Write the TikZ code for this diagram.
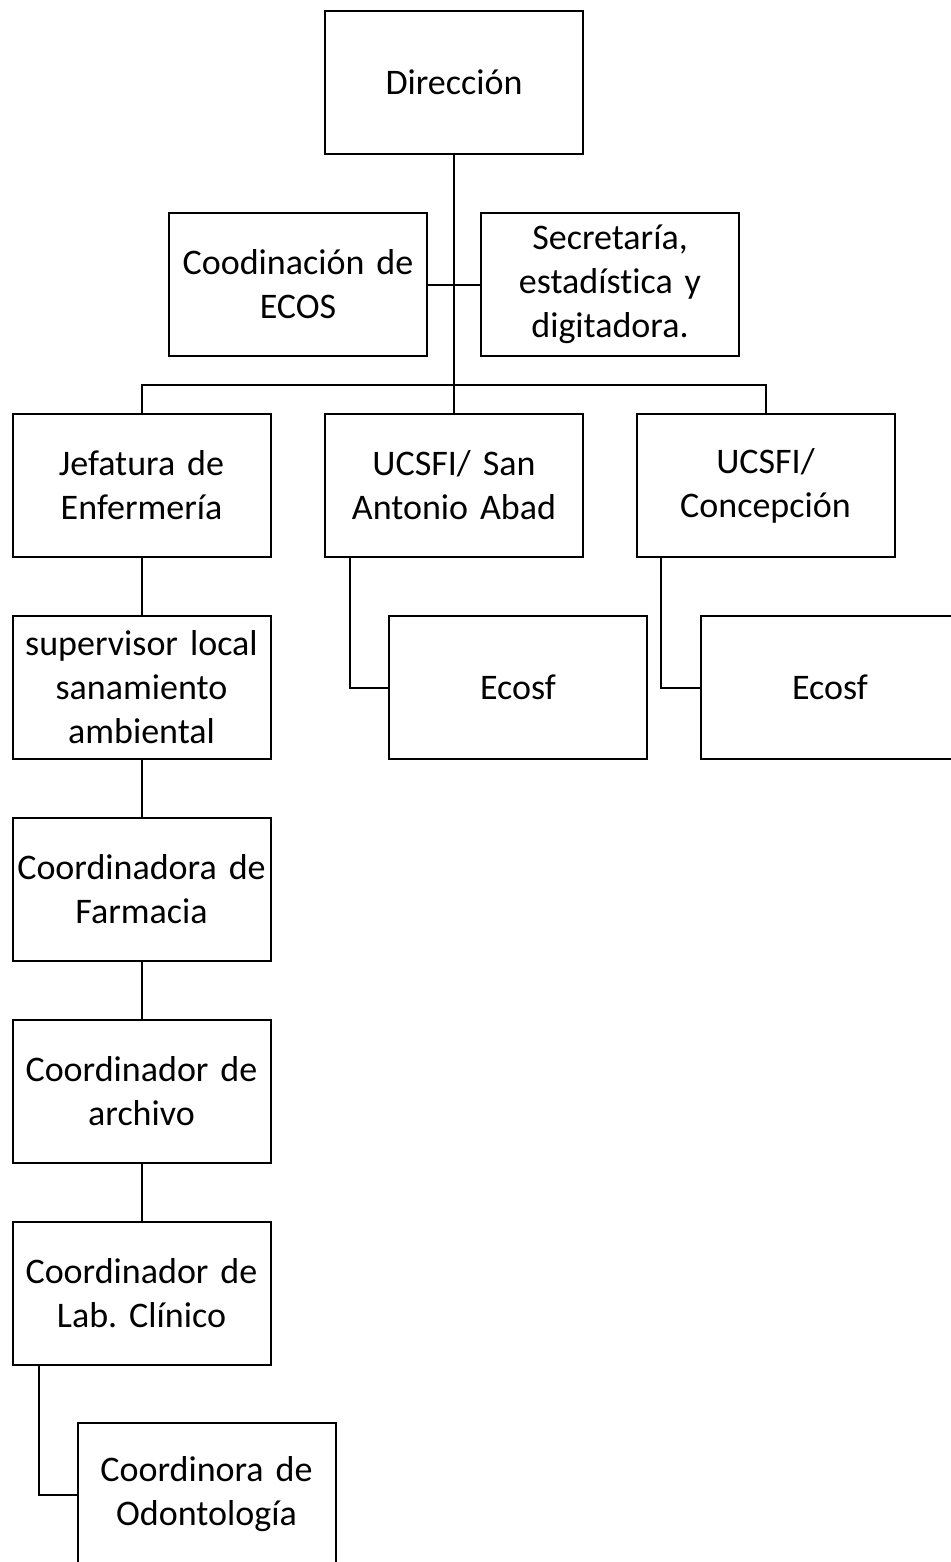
\documentclass[tikz,border=0pt]{standalone}
\usepackage{fontspec}
\setmainfont{Carlito}[Ligatures=NoCommon]
\usepackage{tikz}
\usetikzlibrary{positioning}
\frenchspacing

\begin{document}
\begin{tikzpicture}[x=0.5pt, y=-0.5pt, node distance=101pt,
    box/.style={rectangle, draw, line width=1pt, minimum width=129pt, minimum height=71.5pt, text width=127pt, align=center, inner sep=1pt, font=\fontsize{18}{22}\selectfont},
    link/.style={draw, line width=1pt}]

    \useasboundingbox (0,0) rectangle (951,1562);
    \clip (0,0) rectangle (951,1562);

    \node[box] (dir) at (454,82.5) {Dirección};
    \node[box] (ecos) at (298,284.5) {Coodinación de\\ECOS};
    \node[box] (secr) at (610,284.5) {Secretaría,\\estadística y\\digitadora.};
    \node[box] (jef) at (141.5,485.5) {Jefatura de\\Enfermería};
    \node[box] (sa) at (454,485.5) {UCSFI/ San\\Antonio Abad};
    \node[box] (conc) at (765.5,485.5) {UCSFI/\\Concepción};
    \node[box, below of=jef] (sup) {supervisor local\\sanamiento\\ambiental};
    \node[box, below of=sup] (farm) {Coordinadora de\\Farmacia};
    \node[box, below of=farm] (arch) {Coordinador de\\archivo};
    \node[box, below of=arch] (lab) {Coordinador de\\Lab. Clínico};
    \node[box] (eco1) at (518,687.5) {Ecosf};
    \node[box] (eco2) at (830,687.5) {Ecosf};
    \node[box] (odo) at (206.5,1494.5) {Coordinora de\\Odontología};

    \coordinate (bus) at (454,385);
    \draw[link] (dir) -- (dir |- bus);
    \draw[link] (ecos) -- (secr);
    \draw[link] (jef) |- (bus) -| (conc);
    \draw[link] (sa) -- (sa |- bus);
    \draw[link] (jef) -- (sup);
    \draw[link] (sup) -- (farm);
    \draw[link] (farm) -- (arch);
    \draw[link] (arch) -- (lab);
    \draw[link] ([xshift=13pt]sa.south west) |- (eco1);
    \draw[link] ([xshift=12.5pt]conc.south west) |- (eco2);
    \draw[link] ([xshift=13.5pt]lab.south west) |- (odo);
\end{tikzpicture}
\end{document}
